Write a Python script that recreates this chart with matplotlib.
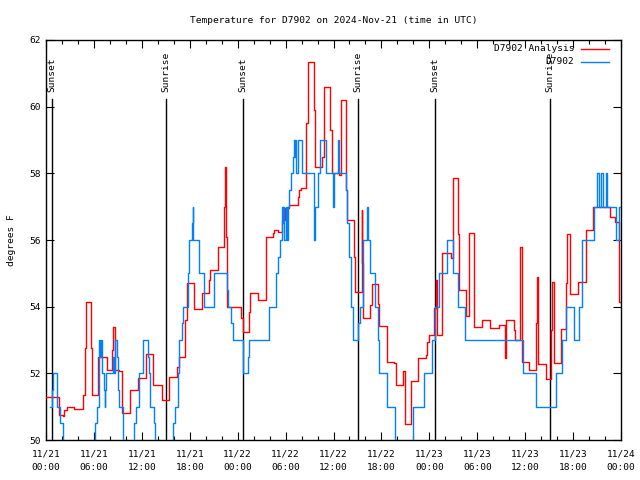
import matplotlib
matplotlib.use("Agg")
import matplotlib.pyplot as plt
from matplotlib.lines import Line2D

title = "Temperature for D7902 on 2024-Nov-21 (time in UTC)"
ylabel = "degrees F"
series_names = ["D7902 Analysis", "D7902"]
series_colors = ["#ff0000", "#0080ff"]

# hours since 2024-11-21 00:00 UTC, step values (held until next time)
red_t = [0, 1.59, 2.09, 2.3, 2.59, 3.55, 4.59, 4.88, 5.0, 5.63, 5.76, 6.55, 7.6, 8.26, 8.39, 8.6,
         9.18, 9.56, 10.56, 11.52, 12.56, 13.44, 14.48, 15.44, 16.44, 16.61, 17.4, 17.6, 18.57,
         19.53, 20.45, 20.58, 21.58, 22.33, 22.45, 22.54, 22.62, 24.42, 24.62, 25.46, 25.58,
         26.59, 27.55, 28.46, 28.59, 29.0, 29.55, 29.93, 30.47, 31.5, 31.64, 31.93, 32.55, 32.76,
         33.58, 33.67, 34.58, 34.79, 35.54, 35.75, 36.71, 36.88, 37.55, 37.71, 38.59, 38.71,
         39.51, 39.6, 39.72, 40.63, 40.76, 41.59, 41.72, 42.64, 42.72, 43.6, 43.8, 44.72, 45.01,
         45.76, 46.6, 47.56, 47.72, 47.98, 48.56, 48.81, 49.02, 49.6, 50.77, 50.98, 51.6, 51.73,
         52.65, 52.98, 53.61, 54.61, 55.57, 56.7, 57.45, 57.65, 58.61, 58.78, 59.41, 59.62,
         60.45, 61.41, 61.53, 61.66, 62.58, 63.29, 63.41, 63.62, 64.54, 65.08, 65.29, 65.58,
         66.62, 67.58, 68.5, 70.59, 71.3, 71.71, 72.0]
red_v = [51.28, 50.75, 50.72, 50.9, 51.0, 50.93, 51.35, 52.75, 54.15, 52.75, 51.35, 52.5, 52.1,
         52.7, 53.38, 52.1, 52.08, 50.8, 51.5, 51.85, 52.58, 51.65, 51.2, 51.9, 52.2, 52.5, 53.6,
         54.7, 53.93, 54.42, 54.8, 55.1, 55.8, 57.0, 58.2, 56.1, 54.0, 53.65, 53.25, 53.85, 54.42,
         54.2, 56.1, 56.2, 56.3, 56.25, 56.6, 56.95, 57.05, 57.3, 57.5, 57.55, 59.5, 61.35,
         59.9, 58.2, 58.5, 60.6, 59.3, 58.0, 57.95, 60.2, 57.5, 56.6, 55.5, 54.43,
         56.9, 55.3, 53.65, 54.05, 54.67, 54.08, 53.43, 52.9, 52.33, 52.3, 51.65, 52.08, 50.47,
         51.78, 52.45, 52.55, 52.95, 53.15, 53.95, 54.8, 53.15, 55.6, 55.45, 57.87, 56.17, 54.5,
         53.72, 56.22, 53.4, 53.6, 53.35, 53.45, 52.45, 53.6, 53.3, 53.0, 55.8, 52.35,
         52.1, 53.5, 54.9, 52.28, 51.82, 53.3, 54.73, 52.32, 53.32, 54.7, 56.17, 54.38,
         54.73, 56.3, 57.0, 56.7, 56.55, 54.15, 54.15]

blue_t = [0.54, 0.71, 0.92, 1.34, 1.75, 2.09, 6.18, 6.34, 6.59, 6.68, 6.8, 6.89, 7.01, 7.22, 7.35,
          7.43, 7.51, 8.35, 8.47, 8.68, 8.85, 8.97, 9.1, 9.6, 11.06, 11.27, 11.69, 12.19, 12.73,
          12.94, 13.06, 13.48, 13.6, 15.94, 16.15, 16.49, 16.69, 17.03, 17.2, 17.74, 17.95, 18.24,
          18.36, 18.45, 19.2, 19.74, 20.99, 22.66, 22.79, 23.16, 23.37, 24.71, 25.25, 25.38,
          27.88, 28.8, 29.09, 29.3, 29.55, 29.63, 29.72, 29.84, 30.05, 30.18, 30.3, 30.47, 30.68,
          30.97, 31.05, 31.14, 31.22, 31.3, 31.59, 32.01, 33.58, 33.67, 34.08, 34.37, 35.04,
          35.96, 36.09, 36.59, 36.71, 37.55, 37.71, 37.96, 38.13, 38.46, 39.09, 39.3, 39.72,
          40.22, 40.38, 40.55, 41.22, 41.51, 41.72, 42.72, 43.68, 45.97, 47.35, 48.31, 48.68,
          49.18, 50.27, 50.98, 51.6, 52.52, 59.74, 61.41, 63.91, 64.62, 65.16, 66.12, 66.75,
          67.17, 68.63, 69.04, 69.25, 69.46, 69.75, 70.09, 70.3, 71.34, 71.75, 72.0]
blue_v = [51.0, 51.5, 52.0, 51.0, 50.5, 49.0, 50.5, 51.0, 52.0, 53.0, 52.5, 53.0, 52.0, 51.5, 51.0,
          51.5, 52.0, 52.5, 52.0, 53.0, 52.5, 51.5, 51.0, 49.0, 50.5, 51.0, 52.0, 53.0, 52.5,
          52.0, 51.0, 50.5, 49.0, 50.5, 51.0, 52.0, 53.0, 53.5, 54.0, 55.0, 56.0, 56.5,
          57.0, 56.0, 55.0, 54.0, 55.0, 54.5, 54.0, 53.5, 53.0, 52.0, 52.5, 53.0,
          54.0, 55.0, 55.5, 56.0, 57.0, 56.5, 57.0, 56.0, 57.0, 56.0, 57.0, 57.5, 58.0,
          58.5, 59.0, 58.5, 59.0, 58.0, 59.0, 58.0, 56.0, 57.0, 58.0, 59.0, 58.0,
          57.0, 58.0, 59.0, 58.0, 57.5, 56.5, 55.5, 54.0, 53.0, 53.5, 54.0, 56.0,
          57.0, 56.0, 55.0, 54.0, 53.0, 52.0, 51.0, 49.0, 51.0, 52.0, 53.0, 54.0,
          55.0, 56.0, 55.0, 54.0, 53.0, 52.0, 51.0, 52.0, 53.0, 54.0, 53.0, 54.0,
          56.0, 57.0, 58.0, 57.0, 58.0, 57.0, 58.0, 57.0, 56.0, 57.0, 57.0]

sun_hours = [0.79, 15.06, 24.7, 39.1, 48.7, 63.1]
sun_labels = ["Sunset", "Sunrise", "Sunset", "Sunrise", "Sunset", "Sunrise"]

xtick_hours = [0, 6, 12, 18, 24, 30, 36, 42, 48, 54, 60, 66, 72]
xtick_labels = ["11/21\n00:00", "11/21\n06:00", "11/21\n12:00", "11/21\n18:00",
                "11/22\n00:00", "11/22\n06:00", "11/22\n12:00", "11/22\n18:00",
                "11/23\n00:00", "11/23\n06:00", "11/23\n12:00", "11/23\n18:00",
                "11/24\n00:00"]
yticks = [50, 52, 54, 56, 58, 60, 62]

mono = "DejaVu Sans Mono"
fs = 6.8

fig = plt.figure(figsize=(6.4, 4.8), dpi=100)
ax = fig.add_axes([46/640, 1-440/480, 575/640, 400/480])

ax.plot(red_t, red_v, drawstyle="steps-post", color=series_colors[0], lw=1.0, zorder=3)
ax.plot(blue_t, blue_v, drawstyle="steps-post", color=series_colors[1], lw=1.0, zorder=4)

for h, lab in zip(sun_hours, sun_labels):
    ax.plot([h, h], [50, 60.23], color="black", lw=1.0, zorder=2)
    ax.text(h, 60.45, lab, rotation=90, ha="center", va="bottom", fontsize=fs,
            family=mono, zorder=5)

ax.set_xlim(0, 72)
ax.set_ylim(50, 62)
ax.set_xticks(xtick_hours)
ax.set_xticklabels(xtick_labels, family=mono, fontsize=fs, linespacing=1.55)
ax.set_xticks(list(range(0, 73, 2)), minor=True)
ax.set_yticks(yticks)
ax.set_yticklabels([str(v) for v in yticks], family=mono, fontsize=fs)
ax.tick_params(axis="x", which="major", pad=7)
ax.tick_params(which="major", direction="in", length=6, width=0.8, top=True, right=True)
ax.tick_params(axis="y", which="major", pad=4)
ax.tick_params(which="minor", direction="in", length=3, width=0.8, top=True, right=True)
for s in ax.spines.values():
    s.set_linewidth(1.0)

ax.set_title(title, family=mono, fontsize=fs, pad=12.5)
ax.set_ylabel(ylabel, family=mono, fontsize=fs, labelpad=9)

# legend (gnuplot style: right-aligned text, then sample)
for i, (name, col) in enumerate(zip(series_names, series_colors)):
    ypos = 1 - (9 + 13*i) / 400
    ax.text((574-46)/575, ypos, name, transform=ax.transAxes, ha="right", va="center",
            family=mono, fontsize=fs, zorder=6)
    ax.add_line(Line2D([(581-46)/575, (609-46)/575], [ypos, ypos], transform=ax.transAxes,
                       color=col, lw=1.0, zorder=6))

fig.savefig("out.png", dpi=100)
